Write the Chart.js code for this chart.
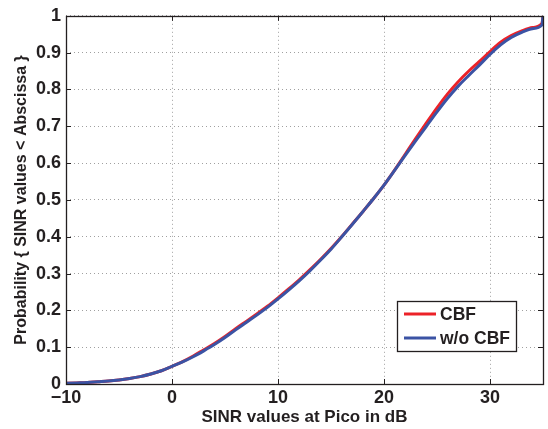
<!DOCTYPE html>
<html>
<head>
<meta charset="utf-8">
<script src="https://cdn.jsdelivr.net/npm/chart.js@4/dist/chart.umd.min.js"></script>
<style>
  html, body { margin: 0; padding: 0; background: #fff; }
  #wrap { width: 548px; height: 429px; position: relative; }
</style>
</head>
<body>
<div id="wrap"><canvas id="c" width="548" height="429"></canvas></div>
<script>
// ---- data ----
const sinrDb = [-10,-9,-8,-7,-6,-5,-4,-3,-2,-1,0,1,2,3,4,5,6,7,8,9,10,11,12,13,14,15,16,17,18,19,20,21,22,23,24,25,26,27,28,29,30,31,32,33,34,34.9,35];
const cbf = [0.002,0.003,0.004,0.006,0.008,0.011,0.015,0.020,0.027,0.036,0.048,0.061,0.076,0.093,0.110,0.129,0.150,0.170,0.190,0.211,0.234,0.258,0.283,0.310,0.338,0.368,0.400,0.434,0.468,0.503,0.540,0.581,0.624,0.667,0.709,0.750,0.788,0.821,0.850,0.876,0.903,0.928,0.946,0.959,0.968,0.979,1.0];
const woCbf = [0.002,0.003,0.004,0.006,0.008,0.011,0.015,0.020,0.027,0.036,0.048,0.060,0.074,0.090,0.107,0.126,0.147,0.167,0.187,0.208,0.231,0.255,0.280,0.307,0.336,0.366,0.399,0.433,0.468,0.503,0.540,0.580,0.621,0.661,0.700,0.739,0.776,0.809,0.838,0.866,0.895,0.921,0.941,0.955,0.965,0.975,1.0];
const seriesNames = ['CBF', 'w/o CBF'];
const xTicks = [-10, 0, 10, 20, 30];
const yTicks = [0, 0.1, 0.2, 0.3, 0.4, 0.5, 0.6, 0.7, 0.8, 0.9, 1];
const xTitle = 'SINR values at Pico in dB';
const yTitle = 'Probability { SINR values < Abscissa }';

const FONT = '"Liberation Sans", Arial, Helvetica, sans-serif';
const TXT = '#231f20';

function pts(xs, ys) { return xs.map((x, i) => ({ x: x, y: ys[i] })); }

const boxPlugin = {
  id: 'boxPlugin',
  afterDraw(chart) {
    const ctx = chart.ctx, a = chart.chartArea;
    const xs = chart.scales.x, ys = chart.scales.y;
    ctx.save();
    ctx.strokeStyle = '#231f20';
    ctx.lineWidth = 1;
    const tl = 5;
    ctx.beginPath();
    xTicks.forEach(v => {
      const px = Math.round(xs.getPixelForValue(v)) + 0.5;
      ctx.moveTo(px, a.bottom); ctx.lineTo(px, a.bottom - tl);
      ctx.moveTo(px, a.top); ctx.lineTo(px, a.top + tl);
    });
    yTicks.forEach(v => {
      const py = Math.round(ys.getPixelForValue(v)) + 0.5;
      ctx.moveTo(a.left, py); ctx.lineTo(a.left + tl, py);
      ctx.moveTo(a.right, py); ctx.lineTo(a.right - tl, py);
    });
    ctx.stroke();
    ctx.lineWidth = 1.3;
    ctx.strokeRect(Math.round(a.left) + 0.5, Math.round(a.top) + 0.5, Math.round(a.right - a.left), Math.round(a.bottom - a.top));

    // legend
    const bw = 119, bh = 50;
    const bx = a.right - 27 - bw, by = a.bottom - 33 - bh;
    ctx.fillStyle = '#fff';
    ctx.fillRect(bx, by, bw, bh);
    ctx.lineWidth = 1.3;
    ctx.strokeRect(bx + 0.5, by + 0.5, bw, bh);
    ctx.font = 'bold 17.5px ' + FONT;
    ctx.textBaseline = 'middle';
    ctx.textAlign = 'left';
    chart.data.datasets.forEach((ds, i) => {
      const ly = by + 13 + i * 24;
      ctx.strokeStyle = ds.borderColor;
      ctx.lineWidth = 3;
      ctx.beginPath();
      ctx.moveTo(bx + 7, ly); ctx.lineTo(bx + 39, ly);
      ctx.stroke();
      ctx.fillStyle = TXT;
      ctx.fillText(ds.label, bx + 43, ly + 1);
    });
    ctx.restore();
  }
};

new Chart(document.getElementById('c'), {
  type: 'line',
  data: {
    datasets: [
      { label: seriesNames[0], data: pts(sinrDb, cbf), borderColor: '#ec2228', borderWidth: 3, pointRadius: 0, cubicInterpolationMode: 'monotone', order: 1 },
      { label: seriesNames[1], data: pts(sinrDb, woCbf), borderColor: '#3b53a4', borderWidth: 3, pointRadius: 0, cubicInterpolationMode: 'monotone', order: 0 }
    ]
  },
  options: {
    responsive: false,
    animation: false,
    devicePixelRatio: 1,
    layout: { padding: { top: 11, right: 5, left: 0, bottom: 0 } },
    plugins: { legend: { display: false }, tooltip: { enabled: false } },
    scales: {
      x: {
        type: 'linear', min: -10, max: 35,
        afterBuildTicks: s => { s.ticks = xTicks.map(v => ({ value: v })); },
        afterFit: s => { s.height = 45; },
        ticks: {
          color: TXT, padding: 3,
          font: { family: FONT, size: 18, weight: 'bold' },
          callback: v => (v < 0 ? '\u2212' + Math.abs(v) : String(v))
        },
        grid: { color: '#a0a0a0', lineWidth: 1, drawTicks: false },
        border: { display: false, dash: [1, 3] },
        title: { display: true, text: xTitle, color: TXT, font: { family: FONT, size: 17, weight: 'bold' }, padding: { top: 0, bottom: 1 } }
      },
      y: {
        type: 'linear', min: 0, max: 1,
        afterBuildTicks: s => { s.ticks = yTicks.map(v => ({ value: v })); },
        afterFit: s => { s.width = 66; },
        ticks: {
          color: TXT, padding: 5,
          font: { family: FONT, size: 18, weight: 'bold' },
          callback: v => String(v)
        },
        grid: { color: '#a0a0a0', lineWidth: 1, drawTicks: false },
        border: { display: false, dash: [1, 3] },
        title: { display: true, text: yTitle, color: TXT, font: { family: FONT, size: 16, weight: 'bold' }, padding: { top: 12, bottom: 0 } }
      }
    }
  },
  plugins: [boxPlugin]
});
</script>
</body>
</html>
